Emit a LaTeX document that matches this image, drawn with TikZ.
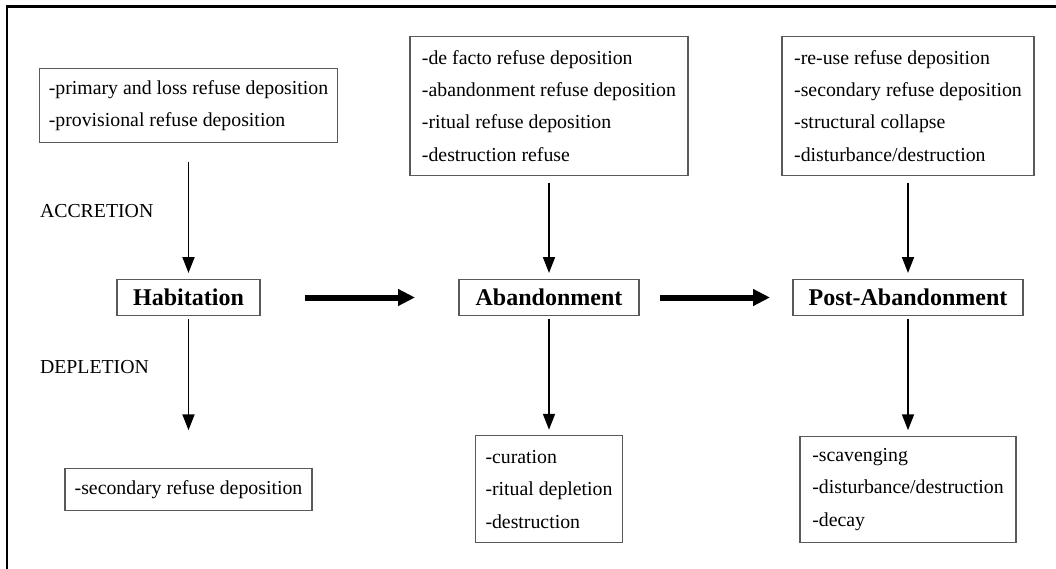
\documentclass[tikz,border=0pt]{standalone}
\usepackage{fontspec}
\setmainfont{Liberation Serif}
\usetikzlibrary{arrows.meta, positioning}
\tikzset{
  box/.style  = {draw=black!65, line width=1.2pt, rectangle, align=left, inner xsep=6pt, font=\fontsize{19.8}{32.4}\selectfont},
  stage/.style = {draw=black!65, line width=1.2pt, rectangle, minimum height=36pt, font=\fontsize{24}{28}\selectfont\bfseries},
  phasetext/.style = {inner sep=0pt, anchor=west, font=\fontsize{19.8}{24}\selectfont},
  myarrow/.style = {-{Triangle[length=16pt,width=12pt]}, line width=1.8pt},
  bigarrow/.style = {-{Triangle[length=17pt,width=16pt]}, line width=6pt},
}

\begin{document}
\begin{tikzpicture}[x=1pt, y=-1pt, node distance=191.75pt, every node/.style={outer sep=0pt, text=black}]
    \useasboundingbox (0,0) rectangle (1056,569);
    \draw [line width=2.6pt] (7,6.5) rectangle (1090,600);

    % stages
    \node (n10) [stage, minimum width=143pt] at (188.5,297.5) {Habitation};
    \node (n11) [stage, minimum width=180pt] at (549,297.5) {Abandonment};
    \node (n12) [stage, minimum width=230pt] at (908,297.5) {Post-Abandonment};

    % accretion
    \node (n00) [box, minimum width=298pt, minimum height=74pt, above of=n10] {-primary and loss refuse deposition\\-provisional refuse deposition};
    \node (n01) [box, minimum width=278pt, minimum height=139pt, above of=n11] {-de facto refuse deposition\\-abandonment refuse deposition\\-ritual refuse deposition\\-destruction refuse};
    \node (n02) [box, minimum width=252pt, minimum height=139pt, above of=n12] {-re-use refuse deposition\\-secondary refuse deposition\\-structural collapse\\-disturbance/destruction};

    % depletion
    \node (n20) [box, minimum width=247pt, minimum height=42pt, below of=n10] {-secondary refuse deposition};
    \node (n21) [box, minimum width=147pt, minimum height=107pt, below of=n11] {-curation\\-ritual depletion\\-destruction};
    \node (n22) [box, minimum width=216pt, minimum height=106pt, below of=n12] {-scavenging\\-disturbance/destruction\\-decay};

    \node (l0) [phasetext] at (40,211) {ACCRETION};
    \node (l1) [phasetext] at (40,367.5) {DEPLETION};

    \draw [myarrow, shorten <=19pt, shorten >=6.5pt] (n00) -- (n10);
    \draw [myarrow, shorten <=8pt, shorten >=6.5pt] (n01) -- (n11);
    \draw [myarrow, shorten <=8pt, shorten >=6.5pt] (n02) -- (n12);
    \draw [myarrow, shorten <=3.5pt, shorten >=38pt] (n10) -- (n20);
    \draw [myarrow, shorten <=3.5pt, shorten >=6pt] (n11) -- (n21);
    \draw [myarrow, shorten <=3.5pt, shorten >=6pt] (n12) -- (n22);
    \draw [bigarrow, shorten <=45pt, shorten >=44pt] (n10) -- (n11);
    \draw [bigarrow, shorten <=21pt, shorten >=23pt] (n11) -- (n12);
\end{tikzpicture}
\end{document}
